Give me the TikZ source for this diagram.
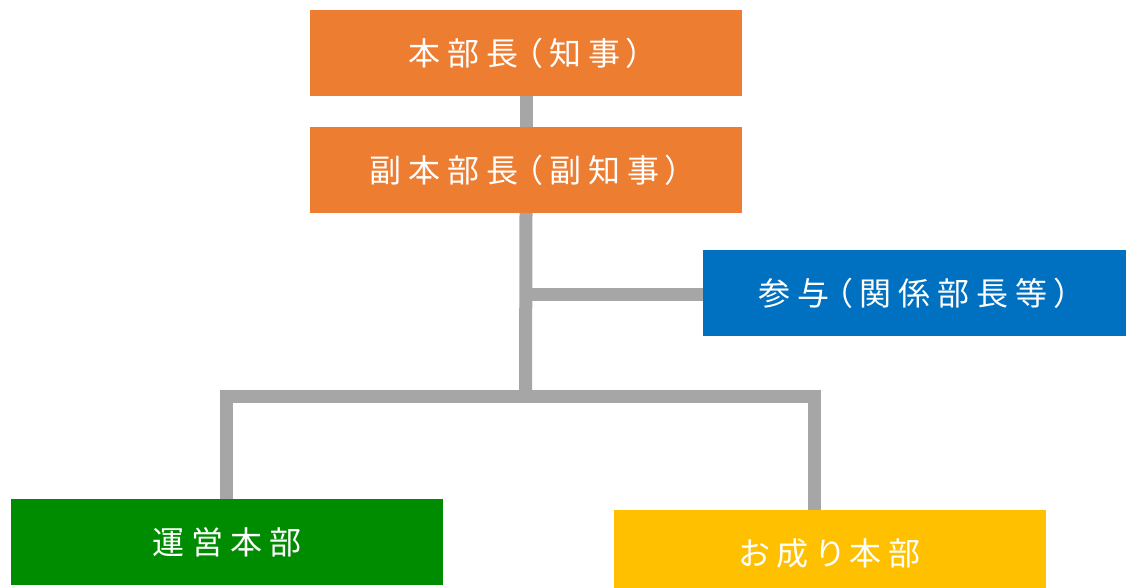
\documentclass[tikz,border=0pt]{standalone}
\usepackage{fontspec}
\newfontfamily\jp{Noto Sans CJK JP}[RawFeature=+palt,LetterSpace=22]
\definecolor{borange}{HTML}{ED7D31}
\definecolor{bblue}{HTML}{0070C0}
\definecolor{bgreen}{HTML}{008C00}
\definecolor{byellow}{HTML}{FFC000}
\definecolor{cgray}{HTML}{A6A6A6}
\tikzset{
  box/.style={rectangle, inner sep=0pt, minimum height=86pt, minimum width=432pt,
    text=white, font=\jp\fontsize{32pt}{32pt}\selectfont},
  conn/.style={draw=cgray, line width=13pt, line join=miter}
}
\begin{document}
\begin{tikzpicture}[x=1pt,y=-1pt]
\useasboundingbox (0,0) rectangle (1126,588);
\node[box, fill=borange] (top) at (526,53) {本部長（知事）};
\node[box, fill=borange] (vice) at (526,170) {副本部長（副知事）};
\node[box, fill=bblue, minimum width=423pt] (adv) at (914.5,293) {参与（関係部長等）};
\node[box, fill=bgreen] (ops) at (227,542) {運営本部};
\node[box, fill=byellow] (visit) at (830,553) {お成り本部};
\coordinate (jb) at (525.5,294.5);
\coordinate (jm) at (525.5,396.5);
\coordinate (jl) at (226,396.5);
\coordinate (jr) at (814.5,396.5);
\draw[conn] (top.south) -- (vice.north);
\draw[conn] (vice.south) -- (jm);
\draw[conn] (jb) -- (jb -| adv.west);
\draw[conn] (jl |- ops.north) -- (jl) -- (jr) -- (jr |- visit.north);
\end{tikzpicture}
\end{document}
